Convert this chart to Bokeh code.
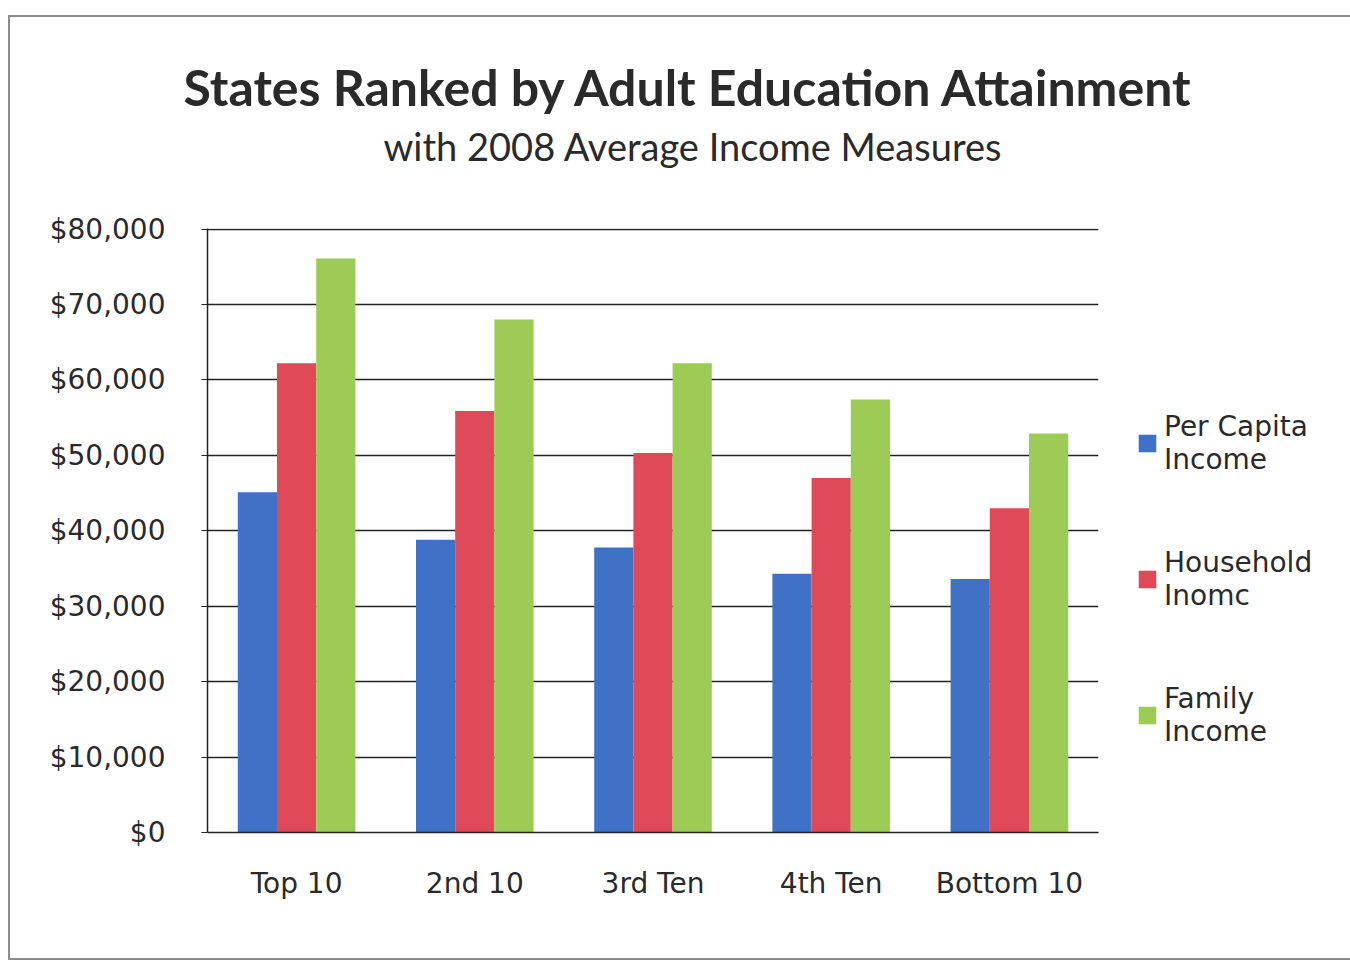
from bokeh.plotting import figure
from bokeh.models import (ColumnDataSource, FactorRange, Range1d, FixedTicker,
                          NumeralTickFormatter, Legend, LegendItem, Title)
from bokeh.transform import dodge
from bokeh.embed import file_html
from bokeh.resources import INLINE

# ---- data ----
categories = ["Top 10", "2nd 10", "3rd Ten", "4th Ten", "Bottom 10"]
per_capita_income = [45100, 38800, 37800, 34300, 33600]
household_income = [62200, 55900, 50300, 47000, 43000]
family_income = [76100, 68000, 62200, 57400, 52900]
series_labels = ["Per Capita\nIncome", "Household\nInomc", "Family\nIncome"]
y_ticks = [0, 10000, 20000, 30000, 40000, 50000, 60000, 70000, 80000]

title_text = "States Ranked by Adult Education Attainment"
subtitle_text = "with 2008 Average Income Measures"

colors = ["#3F72C6", "#E04A58", "#9DCC56"]

source = ColumnDataSource(dict(cat=categories, pc=per_capita_income,
                               hh=household_income, fam=family_income))

p = figure(frame_width=891, frame_height=604, x_range=FactorRange(*categories, range_padding=0),
           y_range=Range1d(0, 80080), output_backend="svg", toolbar_location=None,
           min_border_left=197, min_border_right=252, min_border_top=211, min_border_bottom=126)
p.styles = {"margin-left": "8px", "margin-top": "15px",
            "border-left": "2px solid #8c8c8c", "border-top": "2px solid #8c8c8c",
            "border-bottom": "2px solid #8c8c8c"}

axis_font = "DejaVu Sans"
bw = 0.22
r1 = p.vbar(x=dodge("cat", -bw, range=p.x_range), top="pc", width=bw, source=source,
            fill_color=colors[0], line_color=None)
r2 = p.vbar(x=dodge("cat", 0.0, range=p.x_range), top="hh", width=bw, source=source,
            fill_color=colors[1], line_color=None)
r3 = p.vbar(x=dodge("cat", bw, range=p.x_range), top="fam", width=bw, source=source,
            fill_color=colors[2], line_color=None)

# axes
p.yaxis.ticker = FixedTicker(ticks=y_ticks)
p.yaxis.formatter = NumeralTickFormatter(format="$0,0")
for ax in (p.xaxis[0], p.yaxis[0]):
    ax.axis_line_color = "#222222"
    ax.axis_line_width = 1.5
    ax.major_label_text_font = axis_font
    ax.major_label_text_font_size = "28px"
    ax.major_label_text_color = "#2a2a2a"
    ax.minor_tick_line_color = None
p.yaxis.major_tick_line_color = "#222222"
p.yaxis.major_tick_out = 6
p.yaxis.major_tick_in = 0
p.yaxis.major_label_standoff = 36
p.xaxis.major_tick_line_color = None
p.xaxis.major_label_standoff = 28

p.xgrid.grid_line_color = None
p.ygrid.grid_line_color = "#222222"
p.ygrid.grid_line_width = 1.5
p.outline_line_color = None
p.background_fill_color = "white"
p.border_fill_color = "white"

legend = Legend(items=[LegendItem(label=series_labels[0], renderers=[r1]),
                       LegendItem(label=series_labels[1], renderers=[r2]),
                       LegendItem(label=series_labels[2], renderers=[r3])],
                location=(38, 84), border_line_color=None, background_fill_alpha=0,
                label_text_font=axis_font, label_text_font_size="28px",
                label_text_color="#2a2a2a", glyph_width=22, glyph_height=22,
                spacing=70, padding=0, margin=0, label_standoff=6)
p.add_layout(legend, "right")

# titles: p.title is outermost; first added "above" item sits nearest the frame
p.title = Title(text=title_text, text_font="Lato", text_font_style="bold",
                text_font_size="50px", text_color="#2a2a2a", align="left",
                offset=-24, standoff=8)
p.add_layout(Title(text="\u00a0", text_font="Lato", text_font_size="2px",
                   text_color="white", standoff=56), "above")
p.add_layout(Title(text=subtitle_text, text_font="Lato", text_font_style="normal",
                   text_font_size="38px", text_color="#2a2a2a", align="left",
                   offset=176, standoff=0), "above")

open("out.html", "w").write(file_html(p, INLINE))
